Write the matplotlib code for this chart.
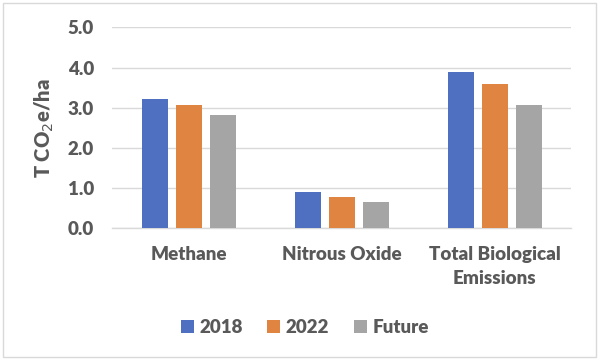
import matplotlib.pyplot as plt
import numpy as np
from matplotlib.patches import Rectangle

categories = ["Methane", "Nitrous Oxide", "Total Biological\nEmissions"]
series_names = ["2018", "2022", "Future"]
values_2018 = [3.22, 0.90, 3.88]
values_2022 = [3.06, 0.77, 3.59]
values_future = [2.82, 0.66, 3.08]
colors = ["#4f70c1", "#df8441", "#a5a5a5"]
yticks = [0.0, 1.0, 2.0, 3.0, 4.0, 5.0]

plt.rcParams["font.family"] = ["Lato", "DejaVu Sans"]
text_color = "#595959"
fs = 13.5

fig = plt.figure(figsize=(6.0, 3.61), dpi=100)
ax = fig.add_axes([0.187, 0.368, 0.765, 0.556])

x = np.arange(len(categories))
width = 0.17
step = 0.222
for i, (vals, name) in enumerate(zip([values_2018, values_2022, values_future], series_names)):
    ax.bar(x + (i - 1) * step, vals, width, color=colors[i], label=name, zorder=3)

ax.set_xlim(-0.5, 2.5)
ax.set_ylim(0, 5.0)
ax.set_yticks(yticks)
ax.set_yticklabels([f"{v:.1f}" for v in yticks], fontsize=fs, fontweight="heavy", color=text_color)
ax.set_xticks(x)
ax.set_xticklabels(categories, fontsize=fs, fontweight="heavy", color=text_color, linespacing=1.45)
ax.tick_params(length=0)
ax.tick_params(axis="y", pad=13)
ax.tick_params(axis="x", pad=13)
ax.grid(axis="y", color="#d9d9d9", linewidth=1, zorder=0)
for s in ["top", "right", "left"]:
    ax.spines[s].set_visible(False)
ax.spines["bottom"].set_color("#d9d9d9")
ax.spines["bottom"].set_linewidth(1)

ax.set_ylabel("T CO$_2$e/ha", fontsize=14.5, fontweight="heavy", color=text_color)
ax.yaxis.set_label_coords(-0.122, 0.5)

fig.legend(loc="center", bbox_to_anchor=(0.508, 0.092), ncol=3, frameon=False,
           prop={"size": fs, "weight": "heavy"}, labelcolor=text_color,
           handlelength=0.7, handleheight=0.7, handletextpad=0.3, columnspacing=1.3)

fig.patches.append(Rectangle((3 / 600, 4 / 361), 593 / 600, 354 / 361, transform=fig.transFigure,
                             fill=False, edgecolor="#d9d9d9", linewidth=1))

fig.savefig("out.png", dpi=100)
